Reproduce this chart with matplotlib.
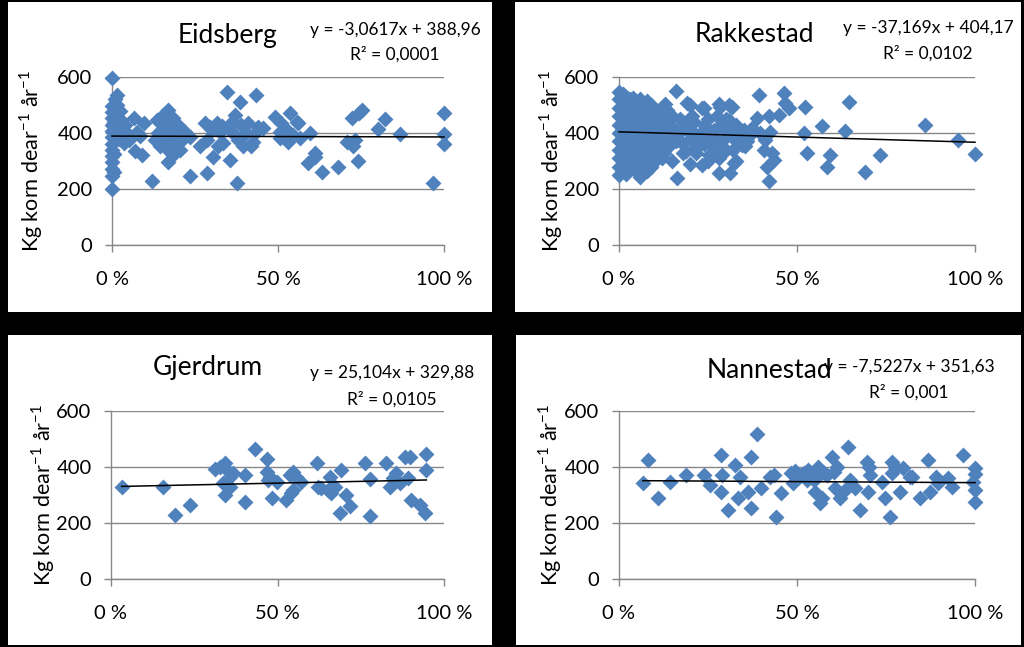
import matplotlib
matplotlib.use('Agg')
import matplotlib.pyplot as plt
from matplotlib.patches import Rectangle

plt.rcParams['font.family'] = ['Lato', 'DejaVu Sans']
plt.rcParams['mathtext.fontset'] = 'custom'
plt.rcParams['mathtext.rm'] = 'Lato'

# andel (0-1) og avling (kg korn per dekar og år)
eidsberg_x = [0, 0, 0, 0, 0, 0, 0, 0, 0, 0, 0, 0, 0, 0,
              0.005, 0.005, 0.005, 0.008, 0.01, 0.012, 0.015, 0.015, 0.018, 0.02, 0.022, 0.025, 0.028, 0.03, 0.035, 0.04,
              0.045, 0.05, 0.065, 0.07, 0.075, 0.09, 0.095, 0.085,
              0.12, 0.13, 0.135, 0.145, 0.14,
              0.155, 0.155, 0.16, 0.17, 0.17, 0.17, 0.17, 0.175, 0.185, 0.18, 0.19, 0.195, 0.2, 0.205, 0.21, 0.22, 0.235, 0.165, 0.185,
              0.235, 0.265, 0.285, 0.28, 0.295, 0.285, 0.3, 0.315, 0.325, 0.305, 0.32, 0.335, 0.33,
              0.345, 0.355, 0.365, 0.37, 0.385, 0.375, 0.355, 0.38, 0.395, 0.39, 0.36,
              0.41, 0.405, 0.42, 0.425, 0.435, 0.44, 0.455, 0.43,
              0.49, 0.51, 0.505, 0.505, 0.52, 0.536, 0.557, 0.53, 0.545, 0.565, 0.56,
              0.596, 0.611, 0.61, 0.59, 0.632, 0.681,
              0.708, 0.723, 0.732, 0.753, 0.741, 0.725, 0.745,
              0.801, 0.822, 0.867, 0.967, 1.0, 1.0, 1.0]
eidsberg_y = [598, 200, 248, 272, 295, 318, 340, 362, 385, 408, 430, 452, 475, 498,
              262, 325, 440, 520, 470, 395, 535, 500, 455, 420, 380, 480, 445, 400, 365, 430,
              400, 375, 453, 334, 405, 322, 435, 390,
              227, 375, 447, 352, 400,
              465, 375, 420, 482, 423, 340, 298, 455, 453, 390, 363, 400, 430, 340, 375, 405, 387, 395, 320,
              245, 352, 257, 435, 423, 375, 410, 435, 405, 316, 352, 363, 425,
              548, 304, 400, 465, 512, 221, 411, 375, 352, 429, 440,
              435, 400, 352, 369, 536, 423, 417, 400,
              458, 435, 403, 381, 417, 471, 439, 367, 393, 382, 435,
              400, 328, 316, 293, 261, 279,
              369, 453, 375, 482, 300, 354, 470,
              414, 450, 396, 221, 471, 396, 361]

rakkestad_x = [0, 0, 0, 0, 0, 0, 0, 0, 0, 0, 0,
               0.01, 0.01, 0.01, 0.01, 0.01, 0.01, 0.01, 0.01, 0.01, 0.01,
               0.02, 0.02, 0.02, 0.02, 0.02, 0.02, 0.02, 0.02, 0.02, 0.02,
               0.03, 0.03, 0.03, 0.03, 0.03, 0.03, 0.03, 0.03, 0.03,
               0.04, 0.04, 0.04, 0.04, 0.04, 0.04, 0.04, 0.04, 0.04,
               0.05, 0.05, 0.05, 0.05, 0.05, 0.05, 0.05, 0.05, 0.05,
               0.06, 0.06, 0.06, 0.06, 0.06, 0.06, 0.06, 0.06, 0.06, 0.06,
               0.07, 0.07, 0.07, 0.07, 0.07, 0.07, 0.07, 0.07,
               0.08, 0.08, 0.08, 0.08, 0.08, 0.08, 0.08, 0.08, 0.08,
               0.09, 0.09, 0.09, 0.09, 0.09, 0.09, 0.09, 0.09,
               0.1, 0.1, 0.1, 0.1, 0.1, 0.1, 0.1,
               0.11, 0.11, 0.11, 0.11, 0.11, 0.11,
               0.12, 0.12, 0.12, 0.12, 0.12, 0.12,
               0.136, 0.15, 0.126, 0.117, 0.126, 0.14, 0.159, 0.164, 0.168, 0.178, 0.187, 0.182,
               0.2, 0.206, 0.21, 0.215, 0.22, 0.234, 0.238, 0.243, 0.234, 0.252, 0.262, 0.266,
               0.28, 0.285, 0.276, 0.3, 0.294, 0.318, 0.308, 0.313, 0.322, 0.327, 0.346, 0.336, 0.355, 0.3, 0.318,
               0.13, 0.14, 0.15, 0.16, 0.17, 0.18, 0.19, 0.2, 0.21, 0.22, 0.23, 0.24, 0.25, 0.26, 0.27,
               0.28, 0.29, 0.3, 0.31, 0.32, 0.33, 0.34, 0.35, 0.36, 0.37, 0.15, 0.2, 0.25, 0.28, 0.33,
               0.13, 0.19, 0.24, 0.28, 0.31,
               0.393, 0.388, 0.374, 0.397, 0.411, 0.425, 0.421, 0.407, 0.416, 0.421, 0.435, 0.43, 0.449,
               0.463, 0.467, 0.477, 0.523, 0.519, 0.528, 0.57, 0.584, 0.593,
               0.636, 0.645, 0.692, 0.734, 0.86, 0.953, 1.0]
rakkestad_y = [250, 280, 310, 340, 370, 400, 430, 460, 490, 520, 545,
               265, 300, 335, 365, 395, 425, 455, 485, 515, 540,
               255, 290, 320, 350, 380, 410, 440, 470, 500, 530,
               270, 305, 335, 365, 395, 425, 455, 490, 520,
               285, 315, 345, 375, 405, 435, 465, 495, 525,
               260, 300, 330, 360, 390, 420, 450, 480, 510,
               243, 275, 310, 340, 370, 400, 430, 460, 490, 520,
               290, 320, 355, 385, 415, 445, 475, 505,
               265, 300, 335, 365, 395, 425, 455, 490, 515,
               280, 315, 350, 380, 410, 440, 470, 500,
               300, 330, 360, 395, 425, 455, 485,
               320, 350, 380, 410, 440, 470,
               310, 345, 375, 405, 435, 465,
               482, 459, 411, 375, 328, 352, 551, 239, 399, 363, 334, 435,
               500, 459, 399, 328, 369, 488, 429, 387, 286, 322, 358, 411,
               257, 494, 459, 411, 334, 494, 447, 257, 292, 375, 358, 399, 352, 340, 423,
               440, 395, 420, 370, 450, 330, 410, 380, 440, 350, 400, 360, 450, 390, 340,
               420, 370, 450, 400, 340, 430, 380, 410, 370, 395, 300, 290, 300, 310, 300,
               505, 507, 489, 505, 500,
               536, 453, 417, 399, 375, 405, 459, 340, 280, 227, 304, 328, 465,
               544, 506, 488, 494, 399, 328, 425, 280, 322,
               407, 512, 259, 322, 428, 375, 325]

gjerdrum_x = [0.032, 0.157, 0.192, 0.237, 0.312, 0.327, 0.342, 0.347, 0.367, 0.357, 0.337, 0.342, 0.357,
              0.402, 0.402, 0.432, 0.467, 0.467, 0.477, 0.472, 0.482, 0.497,
              0.527, 0.537, 0.542, 0.547, 0.557, 0.572, 0.547,
              0.62, 0.622, 0.632, 0.657, 0.652, 0.662, 0.672, 0.687, 0.692, 0.707, 0.717,
              0.762, 0.777, 0.777,
              0.827, 0.837, 0.847, 0.857, 0.867, 0.882, 0.892, 0.897, 0.902, 0.927, 0.942, 0.947, 0.947]
gjerdrum_y = [327, 327, 229, 264, 393, 401, 413, 389, 377, 365, 342, 300, 330,
              371, 276, 463, 427, 383, 365, 353, 288, 345,
              282, 371, 306, 383, 365, 347, 318,
              413, 330, 324, 365, 318, 306, 330, 235, 389, 300, 259,
              413, 356, 225,
              413, 330, 359, 377, 342, 436, 359, 436, 282, 264, 235, 448, 389]

nannestad_x = [0.067, 0.081, 0.11, 0.143, 0.188, 0.24, 0.256, 0.287, 0.29, 0.287, 0.306, 0.326, 0.34, 0.334,
               0.362, 0.371, 0.371, 0.388, 0.4, 0.424, 0.434, 0.441, 0.455, 0.483, 0.49,
               0.505, 0.519, 0.528, 0.542, 0.556, 0.551, 0.565, 0.57, 0.56, 0.584, 0.598, 0.603, 0.612,
               0.607, 0.62, 0.643, 0.649, 0.636, 0.663, 0.677, 0.696, 0.701, 0.706, 0.7,
               0.738, 0.747, 0.761, 0.767, 0.766, 0.776, 0.79, 0.798, 0.818, 0.823, 0.846,
               0.868, 0.874, 0.89, 0.897, 0.924, 0.935, 0.966, 1.0, 1.0, 1.0, 1.0, 0.993,
               0.495, 0.512, 0.53, 0.548, 0.575]
nannestad_y = [343, 425, 289, 346, 371, 371, 336, 443, 370, 311, 246, 407, 364, 289,
               311, 436, 253, 518, 325, 364, 371, 221, 307, 378, 342,
               365, 377, 353, 377, 365, 312, 271, 288, 401, 371, 436, 383, 401,
               324, 289, 471, 354, 318, 324, 246, 418, 401, 371, 311,
               347, 289, 221, 418, 377, 401, 311, 396, 365, 364, 289,
               425, 311, 364, 342, 361, 329, 443, 396, 375, 318, 275, 346,
               385, 372, 390, 352, 380]

names = ['Eidsberg', 'Rakkestad', 'Gjerdrum', 'Nannestad']
slopes = [-3.0617, -37.169, 25.104, -7.5227]
intercepts = [388.96, 404.17, 329.88, 351.63]
eq_labels = ['y = -3,0617x + 388,96', 'y = -37,169x + 404,17',
             'y = 25,104x + 329,88', 'y = -7,5227x + 351,63']
r2_labels = ['R² = 0,0001', 'R² = 0,0102', 'R² = 0,0105', 'R² = 0,001']
xtick_labels = ['0 %', '50 %', '100 %']
ytick_values = [0, 200, 400, 600]

W, H = 1024, 647
BLUE = '#4F81BD'
GRID = '#878787'

# pikselplassering: panel, akse, tittel, likning, ylabel
panels = [(8, 2, 492, 312), (515, 2, 1021, 312), (8, 335, 492, 645), (516, 335, 1021, 645)]
axes_px = [(112, 77, 444, 245), (619, 77, 975, 245), (111, 411, 444, 579), (619, 411, 975, 579)]
title_px = [(227, 36), (754, 35), (208, 368), (769, 370)]
eq_px = [(395, 30, 54), (928, 28, 53), (392, 373, 399), (909, 367, 392)]
ylab_px = [31, 551, 43, 550]


def fx(px):
    return px / W


def fy(py):
    return 1 - py / H


def draw_panel(fig, i, xs, ys):
    x0, y0, x1, y1 = panels[i]
    fig.add_artist(Rectangle((fx(x0), fy(y1)), fx(x1 - x0), (y1 - y0) / H,
                             transform=fig.transFigure, facecolor='white',
                             edgecolor='none', zorder=0))
    a0, b0, a1, b1 = axes_px[i]
    ax = fig.add_axes([fx(a0), fy(b1), fx(a1 - a0), (b1 - b0) / H])
    ax.set_facecolor('white')
    ax.set_xlim(0, 1)
    ax.set_ylim(0, 600)
    ax.set_xticks([0, 0.5, 1])
    ax.set_xticklabels(xtick_labels)
    ax.set_yticks(ytick_values)
    ax.tick_params(axis='both', direction='out', length=5, width=1, color=GRID,
                   labelsize=14.5)
    ax.tick_params(axis='y', pad=9)
    ax.tick_params(axis='x', pad=14)
    for s in ['top', 'right']:
        ax.spines[s].set_visible(False)
    for s in ['left', 'bottom']:
        ax.spines[s].set_color(GRID)
        ax.spines[s].set_linewidth(1)
    ax.yaxis.grid(True, color=GRID, linewidth=1)
    ax.set_axisbelow(True)

    ax.scatter(xs, ys, marker='D', s=66, color=BLUE, linewidths=0,
               clip_on=False, zorder=3)
    lx = [min(xs), max(xs)]
    ly = [slopes[i] * v + intercepts[i] for v in lx]
    ax.plot(lx, ly, color='black', linewidth=1.1, zorder=4, clip_on=False)

    ax.set_ylabel('Kg korn dear$^{\\mathregular{-1}}$ år$^{\\mathregular{-1}}$', fontsize=15.5)
    ax.yaxis.label.set_va('center')
    ax.yaxis.set_label_coords((ylab_px[i] - a0) / (a1 - a0), 0.5)

    tx, ty = title_px[i]
    fig.text(fx(tx), fy(ty), names[i], fontsize=19, ha='center', va='center')
    ex, ey1, ey2 = eq_px[i]
    fig.text(fx(ex), fy(ey1), eq_labels[i], fontsize=12.5, ha='center', va='center')
    fig.text(fx(ex), fy(ey2), r2_labels[i], fontsize=12.5, ha='center', va='center')
    return ax


fig = plt.figure(figsize=(10.24, 6.47), dpi=100, facecolor='black')
draw_panel(fig, 0, eidsberg_x, eidsberg_y)
draw_panel(fig, 1, rakkestad_x, rakkestad_y)
draw_panel(fig, 2, gjerdrum_x, gjerdrum_y)
draw_panel(fig, 3, nannestad_x, nannestad_y)
fig.savefig('out.png', dpi=100, facecolor='black')
